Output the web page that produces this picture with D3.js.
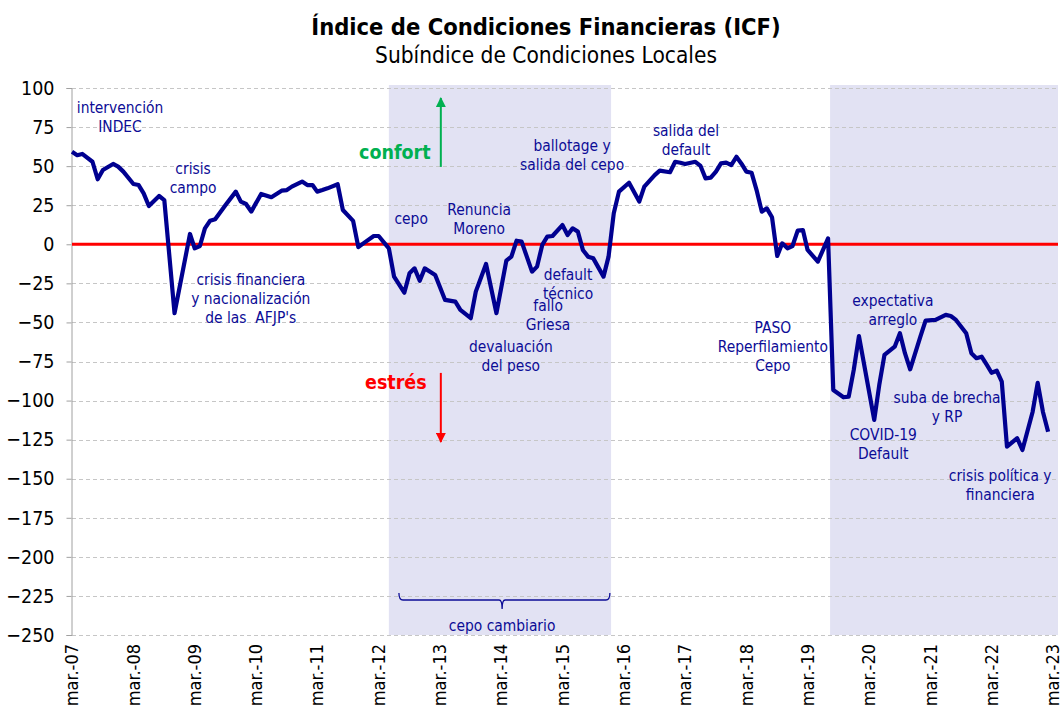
<!DOCTYPE html>
<html>
<head>
<meta charset="utf-8">
<script src="https://cdn.jsdelivr.net/npm/d3@7"></script>
<style>
  body { margin: 0; background: #fff; }
  svg text { font-family: "DejaVu Sans Condensed", "DejaVu Sans", sans-serif; white-space: pre; }
</style>
</head>
<body>
<div id="chart"></div>
<script>
// ICF - subindice de condiciones locales
var months = ["2007-03","2007-04","2007-05","2007-07","2007-08","2007-09","2007-11","2007-12","2008-01",
  "2008-03","2008-04","2008-05","2008-06","2008-08","2008-09","2008-11","2009-02","2009-03","2009-04",
  "2009-05","2009-06","2009-07","2009-09","2009-11","2009-12","2010-01","2010-02","2010-04","2010-06",
  "2010-08","2010-09","2010-10","2010-12","2011-01","2011-02","2011-03","2011-04","2011-05","2011-07",
  "2011-08","2011-10","2011-11","2011-12","2012-02","2012-03","2012-05","2012-06","2012-08","2012-09",
  "2012-10","2012-11","2012-12","2013-02","2013-04","2013-06","2013-07","2013-09","2013-10","2013-12",
  "2014-02","2014-04","2014-05","2014-06","2014-07","2014-09","2014-10","2014-11","2014-12","2015-01",
  "2015-03","2015-04","2015-05","2015-06","2015-07","2015-08","2015-09","2015-11","2015-12","2016-01",
  "2016-02","2016-04","2016-06","2016-07","2016-09","2016-10","2016-12","2017-01","2017-02","2017-03",
  "2017-05","2017-06","2017-07","2017-08","2017-09","2017-10","2017-11","2017-12","2018-01","2018-02",
  "2018-03","2018-04","2018-05","2018-06","2018-07","2018-08","2018-09","2018-10","2018-11","2018-12",
  "2019-01","2019-02","2019-03","2019-05","2019-07","2019-08","2019-10","2019-11","2019-12","2020-01",
  "2020-04","2020-05","2020-06","2020-08","2020-09","2020-10","2020-11","2021-01","2021-02","2021-04",
  "2021-06","2021-07","2021-08","2021-10","2021-11","2021-12","2022-01","2022-02","2022-03","2022-04",
  "2022-05","2022-06","2022-08","2022-09","2022-11","2022-12","2023-01","2023-02"];

var icf = [59.2,57,57.8,52.8,41.6,47.5,51.4,49.7,46.5,
  38.6,37.9,32.6,24.5,30.9,28.3,-44.1,6.6,-2.6,-1.1,
  10.2,15.1,16,25.1,33.7,27.3,25.8,20.9,32.2,30.1,
  34.3,34.7,36.9,40.1,37.9,37.9,33.7,34.7,35.8,38.4,
  21.9,15,-1.8,0.6,5.3,5.3,-2.6,-20.7,-31,-18.6,
  -15.4,-23.3,-15.4,-19.6,-35.6,-36.7,-42,-47.3,-30.3,-12.6,
  -44.1,-10.5,-7.9,2.3,1.7,-17.5,-14.3,-0.4,4.9,5.3,
  12.3,5.9,10.2,8.1,-3.6,-7.9,-9,-20.7,-7.9,19.8,
  33.7,39.4,27.3,36.9,44.3,47.1,46.1,52.8,52.2,51.4,
  52.8,50.1,42.2,42.6,46.5,51.8,52.2,50.7,56,51.4,
  46.5,45.8,34.7,20.9,23,17.3,-7.5,0.6,-2.6,-1.1,
  8.7,9.1,-3.6,-11.1,3.8,-93.2,-97.9,-97.5,-80.4,-58.7,
  -112.4,-90,-70.8,-65.5,-56.9,-69.7,-80,-59.1,-48.9,-48.4,
  -45.2,-45.9,-48.4,-56.9,-69.7,-72.9,-71.9,-77.2,-82.2,-80.9,
  -87.9,-129.5,-124.1,-131.6,-107.1,-88.6,-107.1,-119.9];

var tickMonths = ["2007-03","2008-03","2009-03","2010-03","2011-03","2012-03","2013-03","2014-03",
  "2015-03","2016-03","2017-03","2018-03","2019-03","2020-03","2021-03","2022-03","2023-03"];
var yTicks = [100,75,50,25,0,-25,-50,-75,-100,-125,-150,-175,-200,-225,-250];

// periodos sombreados
var shaded = [["2012-05-01","2015-12-16"],["2019-07-13","2023-04-01"]];

// anotaciones: [meses desde mar-07, valor] del centro de la primera linea
var notes = [
  {lines:["intervención","INDEC"], at:[9.4,87.2]},
  {lines:["crisis","campo"], at:[23.7,48.2]},
  {lines:["crisis financiera","y nacionalización","de las  AFJP's"], at:[35,-22.3]},
  {lines:["cepo"], at:[66.4,16.2]},
  {lines:["Renuncia","Moreno"], at:[79.7,21.9]},
  {lines:["ballotage y","salida del cepo"], at:[97.9,62.9]},
  {lines:["default","técnico"], at:[97.1,-19.6]},
  {lines:["fallo","Griesa"], at:[93.2,-39.5]},
  {lines:["devaluación","del peso"], at:[85.9,-65.7]},
  {lines:["salida del","default"], at:[120.2,72.5]},
  {lines:["PASO","Reperfilamiento","Cepo"], at:[137.2,-53]},
  {lines:["expectativa","arreglo"], at:[160.7,-36.3]},
  {lines:["suba de brecha","y RP"], at:[171.3,-98.4]},
  {lines:["COVID-19","Default"], at:[158.8,-122]},
  {lines:["crisis política y","financiera"], at:[181.7,-148.3]},
  {lines:["cepo cambiario"], at:[84.2,-244.3]}
];

var W = 1062, H = 724;
var margin = {top: 88, right: 4, bottom: 89, left: 72};
var parseMonth = d3.timeParse("%Y-%m");
var parseDay = d3.timeParse("%Y-%m-%d");
var start = parseMonth("2007-03");

var svg = d3.select("#chart").append("svg")
    .attr("width", W)
    .attr("height", H);

var x = d3.scaleTime()
    .domain([start, parseMonth("2023-04")])
    .range([margin.left, W - margin.right]);

var y = d3.scaleLinear()
    .domain([-250, 100])
    .range([H - margin.bottom, margin.top]);

function monthAt(m) {
    return new Date(start.getTime() + m * 30.4375 * 864e5);
}

// bandas
svg.append("g").selectAll("rect")
    .data(shaded)
    .enter().append("rect")
    .attr("x", d => x(parseDay(d[0])))
    .attr("width", d => x(parseDay(d[1])) - x(parseDay(d[0])))
    .attr("y", y(100) - 3)
    .attr("height", y(-250) - y(100) + 3)
    .attr("fill", "#e2e2f3");

// grilla
svg.append("g").selectAll("line")
    .data(yTicks)
    .enter().append("line")
    .attr("x1", x.range()[0])
    .attr("x2", x.range()[1])
    .attr("y1", d => Math.round(y(d)) + 0.5)
    .attr("y2", d => Math.round(y(d)) + 0.5)
    .attr("stroke", "#c6c6c6")
    .attr("stroke-dasharray", "4,3");

// eje y
var yAxis = svg.append("g")
    .attr("transform", "translate(" + (margin.left - 0.5) + ",0)")
    .call(d3.axisLeft(y).tickValues(yTicks).tickSize(5).tickPadding(12));
yAxis.select(".domain").attr("stroke", "#a0a0a0");
yAxis.selectAll(".tick line").attr("stroke", "#a0a0a0");
yAxis.selectAll("text").attr("font-size", 19.5).attr("fill", "#000")
    .style("font-family", "'DejaVu Sans Condensed', 'DejaVu Sans', sans-serif");

// eje x
var xAxis = svg.append("g")
    .attr("transform", "translate(0," + (H - margin.bottom) + ")")
    .call(d3.axisBottom(x).tickValues(tickMonths.map(parseMonth)).tickSize(0)
        .tickFormat(d => "mar.-" + d3.timeFormat("%y")(d)));
xAxis.select(".domain").remove();
xAxis.selectAll("text")
    .attr("font-size", 18).attr("fill", "#000")
    .style("font-family", "'DejaVu Sans Condensed', 'DejaVu Sans', sans-serif")
    .attr("text-anchor", "end")
    .attr("transform", "rotate(-90)")
    .attr("x", -9)
    .attr("y", 0)
    .attr("dy", "0.32em");

// linea cero
svg.append("line")
    .attr("x1", x.range()[0])
    .attr("x2", x.range()[1])
    .attr("y1", y(0))
    .attr("y2", y(0))
    .attr("stroke", "#ff0000")
    .attr("stroke-width", 3);

// serie
var series = months.map((m, i) => ({date: parseMonth(m), value: icf[i]}));
svg.append("path")
    .datum(series)
    .attr("fill", "none")
    .attr("stroke", "#000090")
    .attr("stroke-width", 4.2)
    .attr("stroke-linejoin", "round")
    .attr("d", d3.line().x(d => x(d.date)).y(d => y(d.value)));

// anotaciones
var noteG = svg.append("g")
    .attr("fill", "#0c0c96")
    .attr("font-size", 15.4)
    .attr("text-anchor", "middle");
notes.forEach(function(n) {
    var t = noteG.append("text")
        .attr("x", x(monthAt(n.at[0])))
        .attr("y", y(n.at[1]));
    n.lines.forEach(function(l, i) {
        t.append("tspan")
            .attr("x", x(monthAt(n.at[0])))
            .attr("dy", i === 0 ? "0.35em" : 19)
            .text(l);
    });
});

// llave cepo cambiario
var bx0 = x(monthAt(64)), bx1 = x(monthAt(105.3)), bxm = x(monthAt(84.2));
var by0 = y(-223.1), by1 = y(-227.6), by2 = y(-233.4);
svg.append("path")
    .attr("d", "M" + bx0 + "," + by0 + " Q" + bx0 + "," + by1 + " " + (bx0 + 4) + "," + by1 +
        " L" + (bxm - 3) + "," + by1 + " Q" + bxm + "," + by1 + " " + bxm + "," + by2 +
        " Q" + bxm + "," + by1 + " " + (bxm + 3) + "," + by1 +
        " L" + (bx1 - 4) + "," + by1 + " Q" + bx1 + "," + by1 + " " + bx1 + "," + by0)
    .attr("fill", "none")
    .attr("stroke", "#0c0c96")
    .attr("stroke-width", 1.3);

// confort / estres
var defs = svg.append("defs");
[["arrG", "#00b050"], ["arrR", "#ff0000"]].forEach(function(a) {
    defs.append("marker")
        .attr("id", a[0])
        .attr("viewBox", "0 0 10 10")
        .attr("refX", 9).attr("refY", 5)
        .attr("markerWidth", 5).attr("markerHeight", 5)
        .attr("orient", "auto")
        .append("path").attr("d", "M0,0 L10,5 L0,10 z").attr("fill", a[1]);
});
var ax = x(monthAt(72.2));
svg.append("line")
    .attr("x1", ax).attr("x2", ax)
    .attr("y1", y(49.5)).attr("y2", y(93.6))
    .attr("stroke", "#00b050").attr("stroke-width", 2)
    .attr("marker-end", "url(#arrG)");
svg.append("line")
    .attr("x1", ax).attr("x2", ax)
    .attr("y1", y(-82.3)).attr("y2", y(-126.5))
    .attr("stroke", "#ff0000").attr("stroke-width", 2)
    .attr("marker-end", "url(#arrR)");
svg.append("text")
    .attr("x", x(monthAt(63.2))).attr("y", y(59)).attr("dy", "0.35em")
    .attr("text-anchor", "middle").attr("font-size", 19.5).attr("font-weight", "bold")
    .attr("fill", "#00b050").text("confort");
svg.append("text")
    .attr("x", x(monthAt(63.4))).attr("y", y(-88)).attr("dy", "0.35em")
    .attr("text-anchor", "middle").attr("font-size", 19.5).attr("font-weight", "bold")
    .attr("fill", "#ff0000").text("estrés");

// titulos
svg.append("text")
    .attr("x", 546).attr("y", 35)
    .attr("text-anchor", "middle")
    .attr("font-size", 23.5).attr("font-weight", "bold")
    .text("Índice de Condiciones Financieras (ICF)");
svg.append("text")
    .attr("x", 546).attr("y", 63)
    .attr("text-anchor", "middle")
    .attr("font-size", 22.5)
    .text("Subíndice de Condiciones Locales");
</script>
</body>
</html>
